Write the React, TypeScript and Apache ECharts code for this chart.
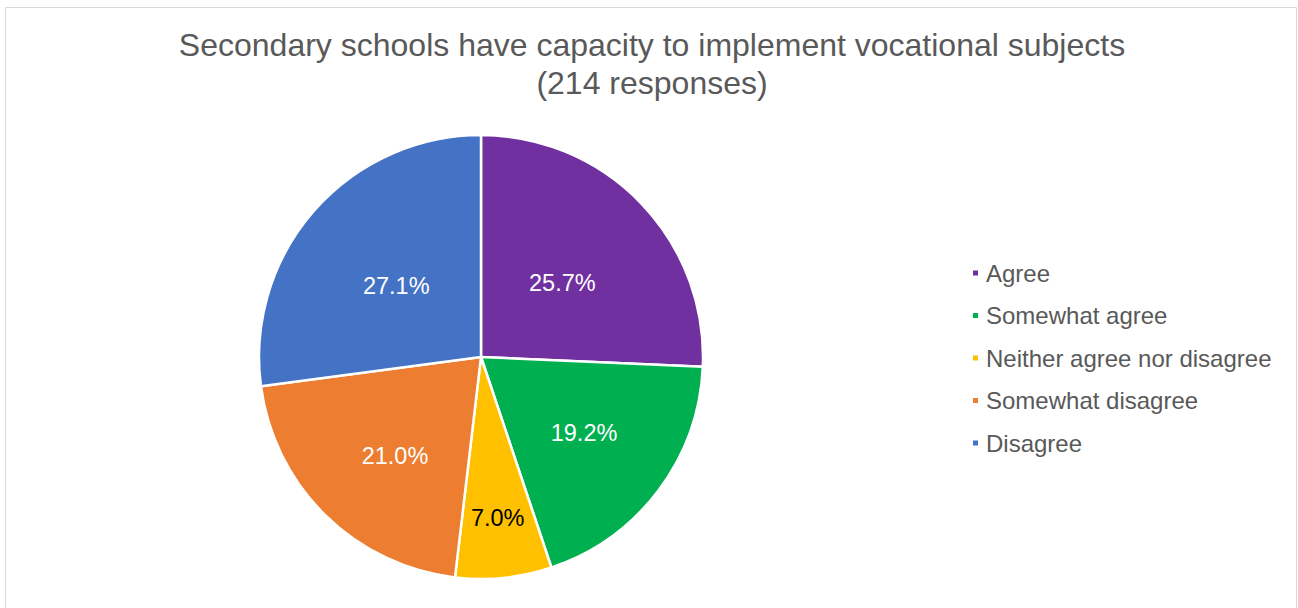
import React, { useEffect, useRef } from "react";
import * as echarts from "echarts";

const titleLines = [
  "Secondary schools have capacity to implement vocational subjects",
  "(214 responses)",
];
const categories = [
  "Agree",
  "Somewhat agree",
  "Neither agree nor disagree",
  "Somewhat disagree",
  "Disagree",
];
const counts = [55, 41, 15, 45, 58];
const colors = ["#7030A0", "#00B050", "#FFC000", "#ED7D31", "#4472C4"];
const labelOffsets: number[][] = [
  [-1, 5],
  [12, 7],
  [5, 48],
  [-6, 18],
  [1, 4],
];
const labelColors = ["#FFFFFF", "#FFFFFF", "#000000", "#FFFFFF", "#FFFFFF"];

export default function App() {
  const ref = useRef<HTMLDivElement>(null);
  useEffect(() => {
    if (!ref.current) return;
    const chart = echarts.init(ref.current, undefined, { renderer: "svg" });
    const total = counts.reduce((a, b) => a + b, 0);
    chart.setOption({
      animation: false,
      backgroundColor: "#FFFFFF",
      title: {
        text: titleLines.join("\n"),
        left: 647,
        textAlign: "center",
        top: 21,
        textStyle: {
          fontFamily: "Liberation Sans, Arial, sans-serif",
          fontSize: 32,
          fontWeight: "normal",
          color: "#595959",
          lineHeight: 38,
        },
      },
      graphic: [
        {
          type: "rect",
          shape: { x: 5.5, y: 7.5, width: 1291, height: 620 },
          style: { fill: "none", stroke: "#D9D9D9", lineWidth: 1 },
          silent: true,
        },
      ],
      legend: {
        orient: "vertical",
        left: 966,
        top: 256,
        itemWidth: 7,
        itemHeight: 7,
        itemGap: 18.5,
        icon: "rect",
        textStyle: {
          fontFamily: "Liberation Sans, Arial, sans-serif",
          fontSize: 24,
          color: "#595959",
          lineHeight: 24,
          padding: [0, 0, 0, 2],
        },
        data: categories,
      },
      series: [
        {
          type: "pie",
          center: [481, 357],
          radius: [0, 222],
          startAngle: 90,
          clockwise: true,
          avoidLabelOverlap: false,
          itemStyle: { borderColor: "#FFFFFF", borderWidth: 2.5 },
          label: {
            show: true,
            position: "inside",
            fontFamily: "Liberation Sans, Arial, sans-serif",
            fontSize: 23.5,
            formatter: (p: any) => ((p.value / total) * 100).toFixed(1) + "%",
          },
          labelLine: { show: false },
          emphasis: { disabled: true },
          data: categories.map((name, i) => ({
            name,
            value: counts[i],
            itemStyle: { color: colors[i] },
            label: { color: labelColors[i], offset: labelOffsets[i] },
          })),
        },
      ],
    });
    return () => chart.dispose();
  }, []);
  return (
    <div
      ref={ref}
      style={{ position: "fixed", left: 0, top: 0, width: 1298, height: 608 }}
    />
  );
}
